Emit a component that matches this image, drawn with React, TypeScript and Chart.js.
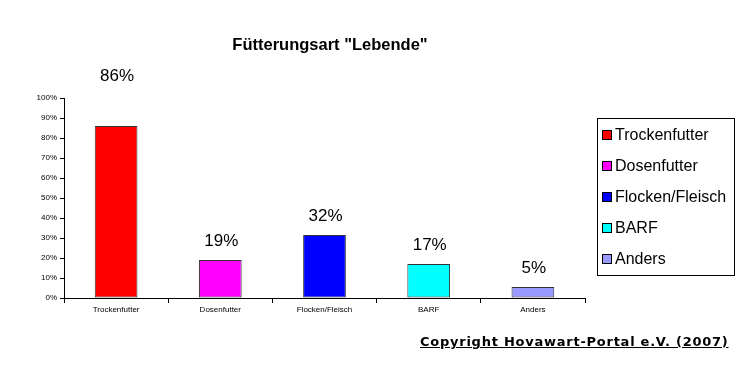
import React, { useEffect, useRef } from "react";
import { Chart, registerables } from "chart.js";

Chart.register(...registerables);

const categories = ["Trockenfutter", "Dosenfutter", "Flocken/Fleisch", "BARF", "Anders"];
const values = [86, 19, 31.5, 17, 5.5];
const valueLabels = ["86%", "19%", "32%", "17%", "5%"];
const colors = ["#FF0000", "#FF00FF", "#0000FF", "#00FFFF", "#9999FF"];
const yTicks = [0, 10, 20, 30, 40, 50, 60, 70, 80, 90, 100];
const titleText = 'Fütterungsart "Lebende"';
const copyrightText = "Copyright Hovawart-Portal e.V. (2007)";

const overlayPlugin = {
  id: "overlay",
  afterDraw(chart: any) {
    const ctx = chart.ctx;
    ctx.save();
    // title
    ctx.fillStyle = "#000";
    ctx.font = "bold 16.5px 'Liberation Sans', Arial, sans-serif";
    ctx.textAlign = "center";
    ctx.textBaseline = "middle";
    ctx.fillText(titleText, 330, 45);
    // value labels
    ctx.font = "17px 'Liberation Sans', Arial, sans-serif";
    const meta = chart.getDatasetMeta(0);
    meta.data.forEach((bar: any, i: number) => {
      const off = values[i] > 80 ? 50 : 19;
      ctx.fillText(valueLabels[i], bar.x + 1, bar.y - off);
    });
    // legend
    const lx = 597, ly = 118, lw = 137, lh = 157;
    ctx.strokeStyle = "#000";
    ctx.lineWidth = 1;
    ctx.strokeRect(lx + 0.5, ly + 0.5, lw, lh);
    ctx.textAlign = "left";
    ctx.font = "16px 'Liberation Sans', Arial, sans-serif";
    categories.forEach((c, i) => {
      const cy = 135 + i * 31;
      ctx.fillStyle = colors[i];
      ctx.fillRect(602, cy - 5, 10, 10);
      ctx.strokeStyle = "#000";
      ctx.strokeRect(602.5, cy - 4.5, 9, 9);
      ctx.fillStyle = "#000";
      ctx.fillText(c, 615, cy + 1);
    });
    ctx.restore();
  },
};

export default function App() {
  const ref = useRef<HTMLCanvasElement>(null);
  useEffect(() => {
    const chart = new Chart(ref.current!, {
      type: "bar",
      data: {
        labels: categories,
        datasets: [
          {
            data: values,
            backgroundColor: colors,
            borderColor: "#333333",
            borderWidth: 1,
            borderSkipped: false,
            barPercentage: 0.41,
            categoryPercentage: 1,
          },
        ],
      },
      options: {
        animation: false,
        responsive: false,
        maintainAspectRatio: false,
        layout: { padding: { top: 98, right: 161, left: 0, bottom: 0 } },
        plugins: { legend: { display: false }, title: { display: false }, tooltip: { enabled: false } },
        scales: {
          x: {
            grid: { offset: true, drawOnChartArea: false, drawTicks: true, tickLength: 5, color: "#000" },
            border: { color: "#000" },
            ticks: {
              color: "#000",
              font: { family: "'Liberation Sans', Arial, sans-serif", size: 8 },
              padding: 2,
              maxRotation: 0,
              autoSkip: false,
            },
            afterFit: (s: any) => {
              s.height = 74;
            },
          },
          y: {
            min: 0,
            max: 100,
            afterBuildTicks: (s: any) => {
              s.ticks = yTicks.map((v) => ({ value: v }));
            },
            grid: { drawOnChartArea: false, drawTicks: true, tickLength: 4, color: "#000" },
            border: { color: "#000" },
            ticks: {
              color: "#000",
              font: { family: "'Liberation Sans', Arial, sans-serif", size: 8 },
              padding: 3,
              callback: (v: any) => v + "%",
            },
            afterFit: (s: any) => {
              s.width = 64;
            },
          },
        },
      },
      plugins: [overlayPlugin],
    });
    return () => chart.destroy();
  }, []);
  return (
    <div style={{ position: "fixed", left: 0, top: 0, width: 746, height: 372, background: "#fff" }}>
      <canvas ref={ref} width={746} height={372} style={{ position: "absolute", left: 0, top: 0 }} />
      <div
        style={{
          position: "absolute",
          left: 420,
          top: 334,
          fontFamily: "'DejaVu Sans', sans-serif",
          fontWeight: "bold",
          fontSize: 13,
          textDecoration: "underline",
          color: "#000",
          whiteSpace: "nowrap",
          letterSpacing: 0.75,
        }}
      >
        {copyrightText}
      </div>
    </div>
  );
}
